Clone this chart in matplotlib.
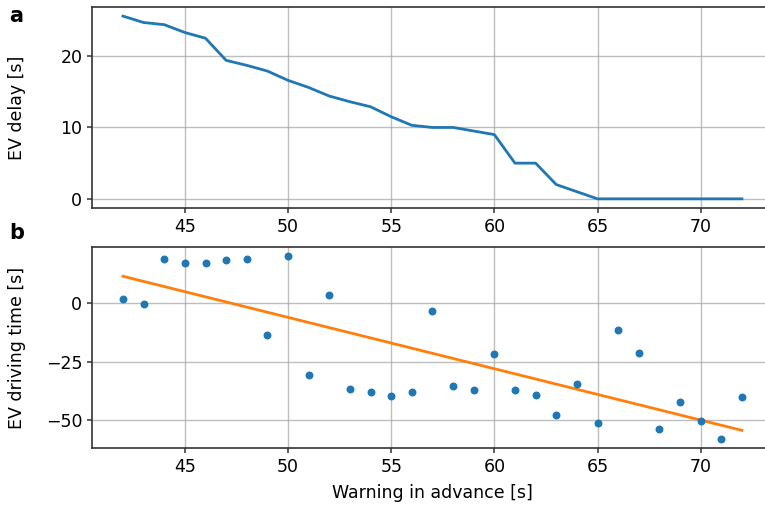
import matplotlib
matplotlib.use('Agg')

import matplotlib.pyplot as plt
import numpy as np

# Warning in advance [s]
warning = list(range(42, 73))

# EV delay [s] (panel a)
ev_delay = [25.6, 24.7, 24.4, 23.3, 22.5, 19.4, 18.7, 17.9, 16.6, 15.6,
            14.4, 13.6, 12.9, 11.5, 10.3, 10.0, 10.0, 9.5, 9.0, 5.0,
            5.0, 2.0, 1.0, 0.0, 0.0, 0.0, 0.0, 0.0, 0.0, 0.0, 0.0]

# EV driving time [s] (panel b)
ev_driving = [1.7, -0.3, 18.9, 17.1, 16.9, 18.4, 18.5, -13.8, 19.8, -30.8,
              3.4, -36.8, -37.9, -39.5, -37.9, -3.3, -35.3, -37.0, -21.7, -37.2,
              -39.2, -47.7, -34.6, -51.0, -11.4, -21.5, -53.8, -42.3, -50.2, -58.1,
              -40.0]

plt.rcParams['font.size'] = 12.5

fig = plt.figure(figsize=(7.65, 5.12), dpi=100)
ax_a = fig.add_axes([0.1203, 0.5938, 0.890, 0.3926])
ax_b = fig.add_axes([0.1203, 0.1244, 0.890, 0.3926])

ax_a.plot(warning, ev_delay, color="C0", linewidth=2)
ax_a.set_ylabel("EV delay [s]")
ax_a.set_yticks([0, 10, 20])

# least-squares trend line for panel b
x = np.array(warning)
y = np.array(ev_driving)
slope, intercept = np.polyfit(x, y, 1)
ax_b.scatter(x, y, color="C0", s=22, zorder=3)
ax_b.plot(x, slope * x + intercept, color="C1", linewidth=2)
ax_b.set_ylabel("EV driving time [s]")
ax_b.set_xlabel("Warning in advance [s]", labelpad=6)
ax_b.set_yticks([-50, -25, 0])

for ax in (ax_a, ax_b):
    ax.set_xlim(40.5, 73.5)
    ax.set_xticks([45, 50, 55, 60, 65, 70])
    ax.grid(True, color="#a8a8a8", linewidth=1.0, alpha=0.75)
    ax.set_axisbelow(True)
    ax.yaxis.set_label_coords(-0.097, 0.5)
    for spine in ax.spines.values():
        spine.set_color("#333333")
        spine.set_linewidth(1.2)
    ax.tick_params(color="#333333", width=1.1)

fig.text(0.012, 0.968, "a", fontsize=15, fontweight="bold", va="center")
fig.text(0.012, 0.545, "b", fontsize=15, fontweight="bold", va="center")

fig.savefig("out.png", dpi=100)
